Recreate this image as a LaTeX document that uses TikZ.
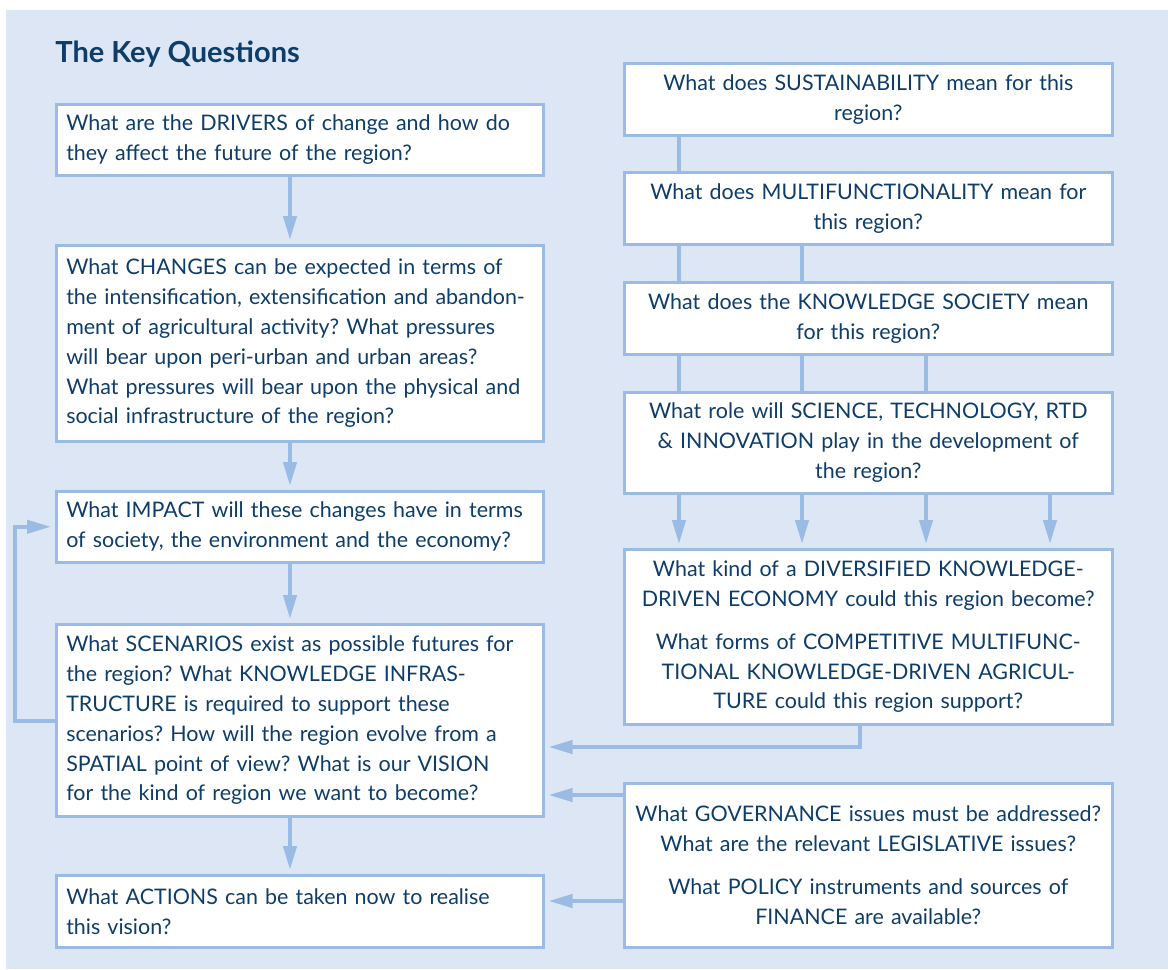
\documentclass[tikz,border=0pt]{standalone}
\usepackage{fontspec}
\setmainfont{Lato}
\usepackage{tikz}
\usetikzlibrary{arrows.meta,positioning}
\definecolor{panel}{HTML}{DCE6F4}
\definecolor{edge}{HTML}{9ABBE4}
\definecolor{ink}{HTML}{0E3D6A}
\frenchspacing

\begin{document}
\begin{tikzpicture}[x=0.2mm,y=-0.2mm,
    every node/.style={font=\fontsize{12.2}{17}\selectfont,text=ink},
    qbox/.style={draw=edge,line width=0.5mm,fill=white,anchor=north west,
                 inner xsep=2mm,inner ysep=1mm},
    lq/.style={qbox,text width=93.4mm,align=left},
    rq/.style={qbox,text width=93.6mm,align=center},
    arr/.style={-{Triangle[length=4.8mm,width=2.6mm]},line width=0.8mm,
                draw=edge,shorten >=0.8mm},
    link/.style={line width=0.8mm,draw=edge},
  ]
  \useasboundingbox (0,0) rectangle (1168,969);
  \fill[panel] (6,10) rectangle (1168,969);

  \node[anchor=base west,inner sep=0pt,font=\bfseries\fontsize{16.5}{19}\selectfont]
    (title) at (55,62) {The Key Questions};

  % left column
  \node[lq,minimum height=14.2mm] (drivers) at (55,103)
    {What are the DRIVERS of change and how do\\they affect the future of the region?};
  \node[lq,minimum height=39.2mm] (changes) at (55,244)
    {What CHANGES can be expected in terms of\\the intensification, extensification and abandon-\\ment of agricultural activity? What pressures\\will bear upon peri-urban and urban areas?\\What pressures will bear upon the physical and\\social infrastructure of the region?};
  \node[lq,minimum height=14.2mm] (impact) at (55,490)
    {What IMPACT will these changes have in terms\\of society, the environment and the economy?};
  \node[lq,minimum height=38.4mm] (scen) at (55,623)
    {What SCENARIOS exist as possible futures for\\the region? What KNOWLEDGE INFRAS-\\TRUCTURE is required to support these\\scenarios? How will the region evolve from a\\SPATIAL point of view? What is our VISION\\for the kind of region we want to become?};
  \node[lq,minimum height=14.4mm] (actions) at (55,874)
    {What ACTIONS can be taken now to realise\\this vision?};

  % right column
  \node[rq,minimum height=14.4mm] (sust) at (623,62)
    {What does SUSTAINABILITY mean for this\\region?};
  \node[rq,minimum height=14.4mm] (multi) at (623,171)
    {What does MULTIFUNCTIONALITY mean for\\this region?};
  \node[rq,minimum height=14.4mm] (know) at (623,281)
    {What does the KNOWLEDGE SOCIETY mean\\for this region?};
  \node[rq,minimum height=20.2mm] (sci) at (623,391)
    {What role will SCIENCE, TECHNOLOGY, RTD\\\& INNOVATION play in the development of\\the region?};
  \node[rq,minimum height=35mm] (div) at (623,548)
    {What kind of a DIVERSIFIED KNOWLEDGE-\\DRIVEN ECONOMY could this region become?\\[2.6mm]What forms of COMPETITIVE MULTIFUNC-\\TIONAL KNOWLEDGE-DRIVEN AGRICUL-\\TURE could this region support?};
  \node[rq,minimum height=32.8mm] (gov) at (623,782)
    {What GOVERNANCE issues must be addressed?\\What are the relevant LEGISLATIVE issues?\\[2.6mm]What POLICY instruments and sources of\\FINANCE are available?};

  % connector columns
  \coordinate (ax) at (290,0);
  \coordinate (r1) at (679,0);
  \coordinate (r2) at (802,0);
  \coordinate (r3) at (926,0);
  \coordinate (r4) at (1050,0);
  \coordinate (fb) at (0,721);
  \coordinate (dturn) at (860,747);
  \coordinate (g1) at (0,795);
  \coordinate (g2) at (0,901);

  \draw[arr] (drivers.south -| ax) -- (changes.north -| ax);
  \draw[arr] (changes.south -| ax) -- (impact.north -| ax);
  \draw[arr] (impact.south -| ax) -- (scen.north -| ax);
  \draw[arr] (scen.south -| ax) -- (actions.north -| ax);
  \draw[arr] (scen.west |- fb) -- ++(-40,0) |- (impact.west);

  \foreach \c in {r1}
    \draw[link] (sust.south -| \c) -- (multi.north -| \c);
  \foreach \c in {r1,r2}
    \draw[link] (multi.south -| \c) -- (know.north -| \c);
  \foreach \c in {r1,r2,r3}
    \draw[link] (know.south -| \c) -- (sci.north -| \c);
  \foreach \c in {r1,r2,r3,r4}
    \draw[arr] (sci.south -| \c) -- (div.north -| \c);

  \draw[arr] (div.south -| dturn) |- (scen.east |- dturn);
  \draw[arr] (gov.west |- g1) -- (scen.east |- g1);
  \draw[arr] (gov.west |- g2) -- (actions.east |- g2);
\end{tikzpicture}
\end{document}
